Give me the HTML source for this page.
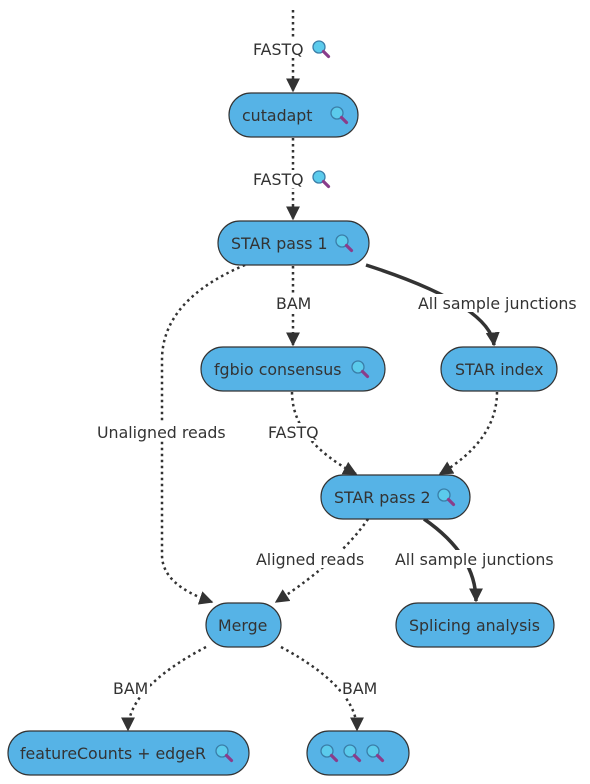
<!DOCTYPE html>
<html><head><meta charset="utf-8"><style>
html,body{margin:0;padding:0;background:#fff;}
svg{display:block;}
text{font-family:"DejaVu Sans","Liberation Sans",sans-serif;font-size:15.8px;fill:#333;}
.n{fill:#56b3e6;stroke:#333;stroke-width:1.2;}
.d{fill:none;stroke:#333;stroke-width:2.5;stroke-dasharray:2.5 3.5;}
.s{fill:none;stroke:#333;stroke-width:3.5;}
.lb{fill:#fff;}
</style></head><body>
<svg width="590" height="784" viewBox="0 0 590 784" xmlns="http://www.w3.org/2000/svg">
<defs>
<marker id="b" viewBox="0 0 10 10" refX="9" refY="5" markerWidth="14" markerHeight="14" markerUnits="userSpaceOnUse" orient="auto">
<path d="M0,0 L10,5 L0,10 z" fill="#333"/></marker>
<g id="m"><circle cx="0" cy="0" r="6" fill="#5bcbec" stroke="#3a7ea8" stroke-width="1.3"/><line x1="4.5" y1="4.5" x2="9.5" y2="9.5" stroke="#8a3d8a" stroke-width="3.2" stroke-linecap="round"/></g>
</defs>

<path class="d" d="M293,10 L293,91" marker-end="url(#b)"/>
<path class="d" d="M293,138 L293,219" marker-end="url(#b)"/>
<path class="d" d="M293,266 L293,345" marker-end="url(#b)"/>
<path class="s" d="M366,265 Q490,305 494,345" marker-end="url(#b)"/>
<path class="d" d="M245,265 Q162,300 162,360 L162,555 Q162,585 212,602" marker-end="url(#b)"/>
<path class="d" d="M292,392 Q292,440 356,474" marker-end="url(#b)"/>
<path class="d" d="M497,392 Q497,440 440,474" marker-end="url(#b)"/>
<path class="d" d="M368,519 Q340,560 276,602" marker-end="url(#b)"/>
<path class="s" d="M424,519 Q476,555 476,601" marker-end="url(#b)"/>
<path class="d" d="M206,647 Q128,688 128,730" marker-end="url(#b)"/>
<path class="d" d="M281,647 Q357,688 357,730" marker-end="url(#b)"/>

<rect class="lb" x="252" y="40" width="80" height="18"/><text x="253" y="55">FASTQ</text><use href="#m" x="319" y="47"/>
<rect class="lb" x="252" y="170" width="80" height="18"/><text x="253" y="185">FASTQ</text><use href="#m" x="319" y="177"/>
<rect class="lb" x="275" y="294" width="38" height="18"/><text x="276" y="309">BAM</text>
<rect class="lb" x="417" y="294" width="166" height="18"/><text x="418" y="309">All sample junctions</text>
<rect class="lb" x="96" y="423" width="133" height="18"/><text x="97" y="438">Unaligned reads</text>
<rect class="lb" x="267" y="423" width="54" height="18"/><text x="268" y="438">FASTQ</text>
<rect class="lb" x="255" y="550" width="112" height="18"/><text x="256" y="565">Aligned reads</text>
<rect class="lb" x="394" y="550" width="166" height="18"/><text x="395" y="565">All sample junctions</text>
<rect class="lb" x="112" y="679" width="38" height="18"/><text x="113" y="694">BAM</text>
<rect class="lb" x="341" y="679" width="38" height="18"/><text x="342" y="694">BAM</text>

<rect class="n" x="229" y="93" width="129" height="44" rx="22"/><text x="242" y="121">cutadapt</text><use href="#m" x="337" y="113"/>
<rect class="n" x="218" y="221" width="151" height="44" rx="22"/><text x="231" y="249">STAR pass 1</text><use href="#m" x="342" y="241"/>
<rect class="n" x="201" y="347" width="184" height="44" rx="22"/><text x="214" y="375">fgbio consensus</text><use href="#m" x="358" y="367"/>
<rect class="n" x="441" y="347" width="116" height="44" rx="22"/><text x="455" y="375">STAR index</text>
<rect class="n" x="321" y="475" width="149" height="44" rx="22"/><text x="334" y="503">STAR pass 2</text><use href="#m" x="444" y="495"/>
<rect class="n" x="206" y="603" width="75" height="44" rx="22"/><text x="218" y="631">Merge</text>
<rect class="n" x="396" y="603" width="158" height="44" rx="22"/><text x="409" y="631">Splicing analysis</text>
<rect class="n" x="8" y="731" width="241" height="44" rx="22"/><text x="20" y="759">featureCounts + edgeR</text><use href="#m" x="222" y="751"/>
<rect class="n" x="307" y="731" width="102" height="44" rx="22"/><use href="#m" x="327" y="751"/><use href="#m" x="350" y="751"/><use href="#m" x="373" y="751"/>
</svg>
</body></html>
